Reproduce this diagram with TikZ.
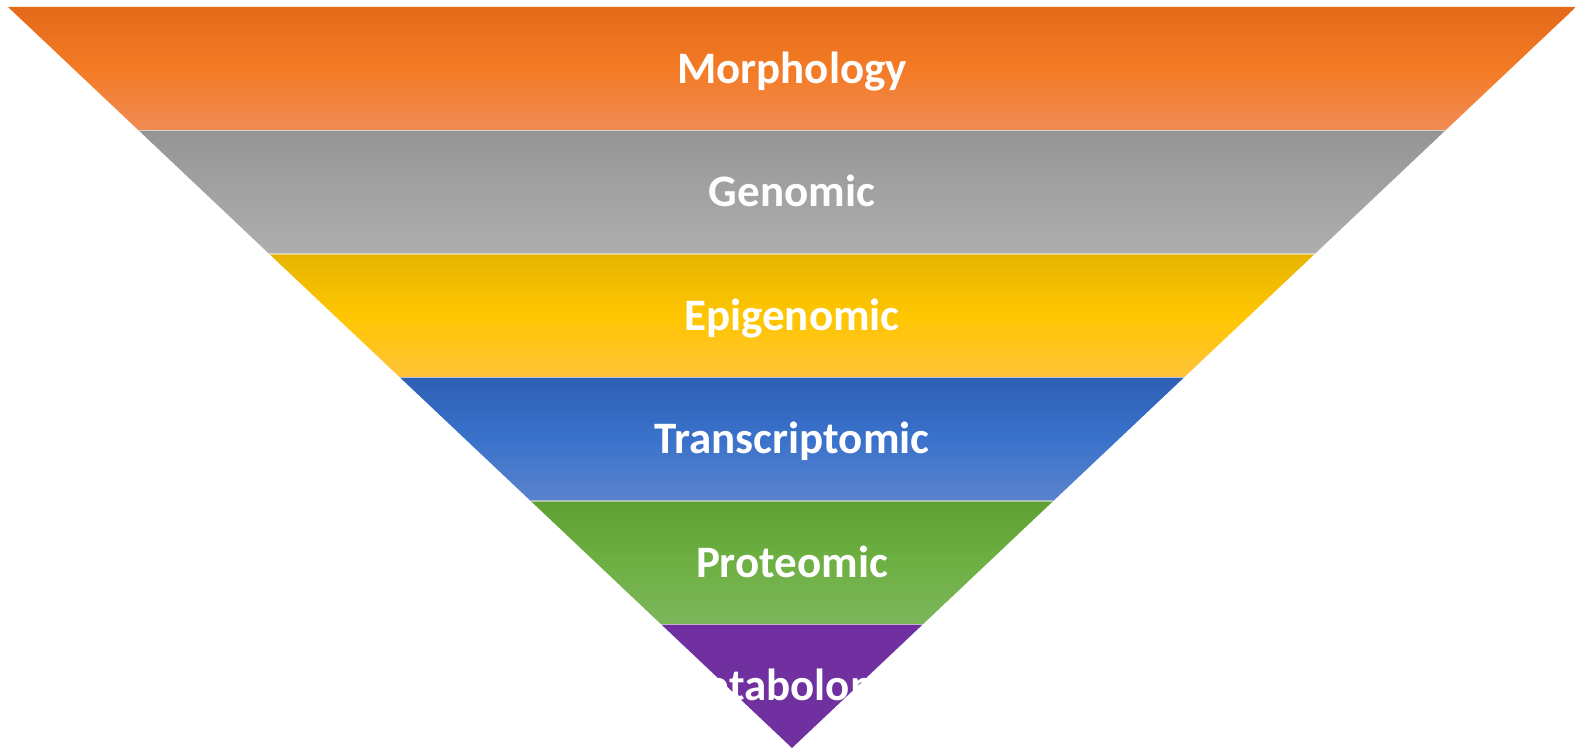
\documentclass[tikz,border=0pt]{standalone}
\usepackage{fontspec}
\setmainfont{Carlito}
\usepackage{tikz}
\usetikzlibrary{calc}

\definecolor{morphtop}{HTML}{E46A19}
\definecolor{morphmid}{HTML}{F47B25}
\definecolor{morphbot}{HTML}{F08B55}
\definecolor{genotop}{HTML}{959595}
\definecolor{genomid}{HTML}{A2A2A2}
\definecolor{genobot}{HTML}{AEAEAE}
\definecolor{epitop}{HTML}{E6B400}
\definecolor{epimid}{HTML}{FFC600}
\definecolor{epibot}{HTML}{FFC33A}
\definecolor{transtop}{HTML}{2E5FB5}
\definecolor{transmid}{HTML}{3A72CB}
\definecolor{transbot}{HTML}{5B83CC}
\definecolor{prottop}{HTML}{60A032}
\definecolor{protmid}{HTML}{6EB043}
\definecolor{protbot}{HTML}{7DB65C}
\definecolor{metabfill}{HTML}{7030A0}

\tikzset{
	bandlabel/.style={anchor=base,yshift=-1.44mm,text=white,inner sep=0pt,
		font=\fontsize{12.8}{15}\selectfont\bfseries},
	sepline/.style={white,line width=0.5pt,opacity=0.45}
}

\begin{document}
\begin{tikzpicture}
		\useasboundingbox (0,0) rectangle (15.75,7.48);
		\coordinate (L0) at (0.08,7.41);   \coordinate (R0) at (15.76,7.41);
		\coordinate (L1) at (1.387,6.175); \coordinate (R1) at (14.453,6.175);
		\coordinate (L2) at (2.693,4.94);  \coordinate (R2) at (13.147,4.94);
		\coordinate (L3) at (4.0,3.705);   \coordinate (R3) at (11.84,3.705);
		\coordinate (L4) at (5.307,2.47);  \coordinate (R4) at (10.533,2.47);
		\coordinate (L5) at (6.613,1.235); \coordinate (R5) at (9.227,1.235);
		\coordinate (apex) at (7.92,0);
		\shade[top color=morphtop,bottom color=morphbot,middle color=morphmid] (L0)--(R0)--(R1)--(L1)--cycle;
		\shade[top color=genotop,bottom color=genobot,middle color=genomid] (L1)--(R1)--(R2)--(L2)--cycle;
		\shade[top color=epitop,bottom color=epibot,middle color=epimid] (L2)--(R2)--(R3)--(L3)--cycle;
		\shade[top color=transtop,bottom color=transbot,middle color=transmid] (L3)--(R3)--(R4)--(L4)--cycle;
		\shade[top color=prottop,bottom color=protbot,middle color=protmid] (L4)--(R4)--(R5)--(L5)--cycle;
		\fill[metabfill] (L5)--(R5)--(apex)--cycle;
		\draw[sepline] (L1)--(R1);
		\draw[sepline] (L2)--(R2);
		\draw[sepline] (L3)--(R3);
		\draw[sepline] (L4)--(R4);
		\draw[sepline] (L5)--(R5);
		\node[bandlabel] (morph) at (7.92,6.7925) {Morphology};
		\node[bandlabel] (geno) at (7.92,5.5575) {Genomic};
		\node[bandlabel] (epi) at (7.92,4.3225) {Epigenomic};
		\node[bandlabel] (trans) at (7.92,3.0875) {Transcriptomic};
		\node[bandlabel] (prot) at (7.92,1.8525) {Proteomic};
		\node[bandlabel] (metab) at (7.92,0.6175) {Metabolomic};
	\end{tikzpicture}
\end{document}
